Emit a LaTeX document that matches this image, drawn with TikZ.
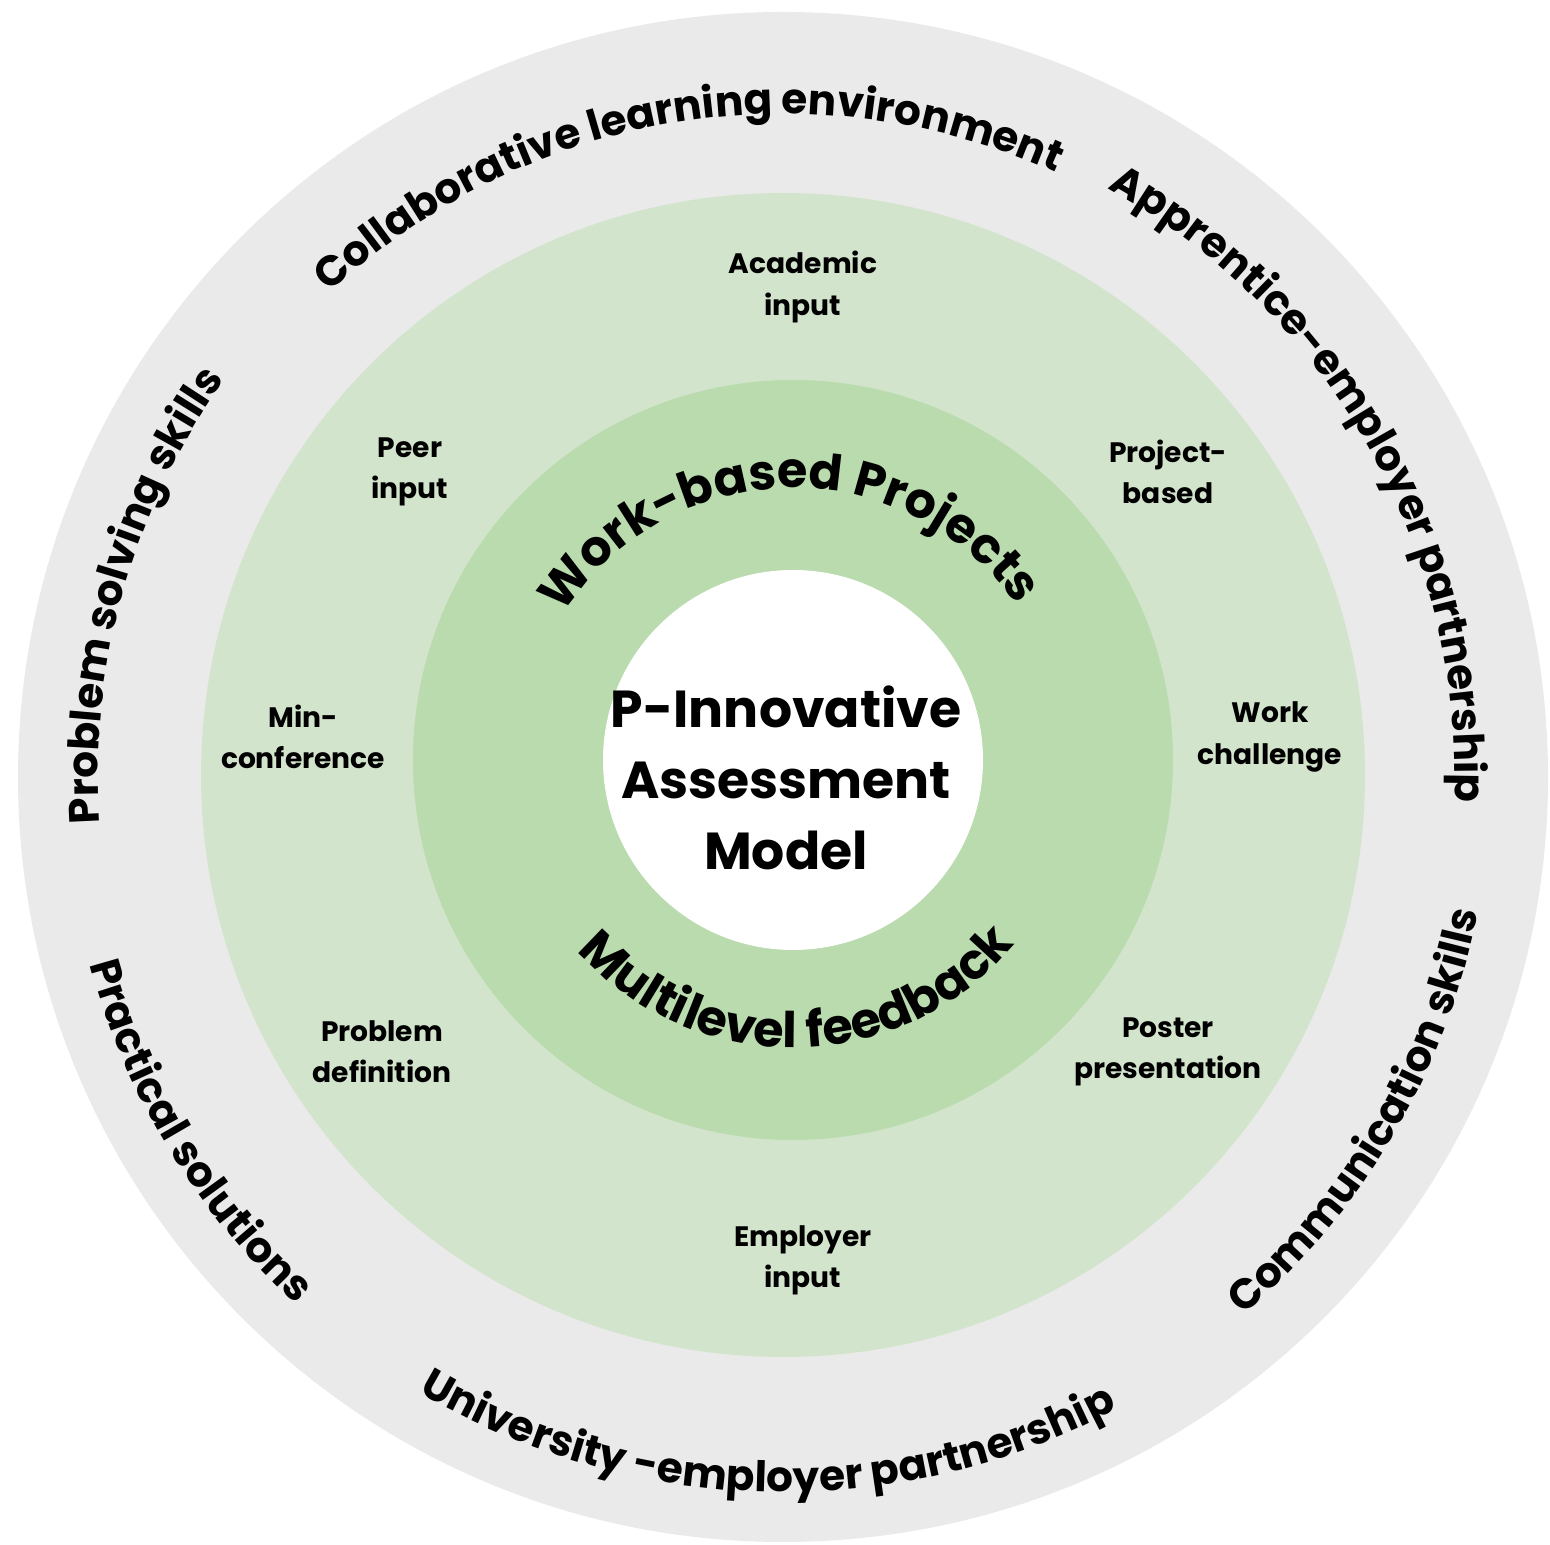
\documentclass[tikz,border=0pt]{standalone}
\usepackage{fontspec}
\setmainfont{Poppins}
\usetikzlibrary{decorations.text}

\definecolor{ringgray}{RGB}{234,234,234}
\definecolor{lightgreen}{RGB}{211,228,204}
\definecolor{midgreen}{RGB}{186,219,174}

\newcommand\outerfnt{\bfseries\fontsize{12}{14}\selectfont}
\newcommand\midfnt{\bfseries\fontsize{14}{17}\selectfont}

\tikzset{
  lbl/.style={align=center, font=\bfseries\fontsize{8}{11.7}\selectfont},
  centretext/.style={align=center, font=\bfseries\fontsize{14.8}{20.2}\selectfont},
  ringtext/.style={decorate, decoration={text along path, text align=center, text={#1}}}
}

\begin{document}
\begin{tikzpicture}
\useasboundingbox (0,0) rectangle (15.5,15.45);
\coordinate (O) at (7.83,7.68);
\coordinate (L) at (7.83,7.70);
\coordinate (M) at (7.93,7.85);

\fill[ringgray] (O) circle (7.65);
\fill[lightgreen] (L) circle (5.82);
\fill[midgreen] (M) circle (3.80);
\fill[white] (M) circle (1.90);

\path[ringtext={|\outerfnt|Collaborative learning environment}] (O) ++(159.4:6.63) arc[start angle=159.4, end angle=39.4, radius=6.63];
\path[ringtext={|\outerfnt|Apprentice-employer partnership}] (O) ++(89.5:6.72) arc[start angle=89.5, end angle=-30.5, radius=6.72];
\path[ringtext={|\outerfnt|Problem solving skills}] (O) ++(224.2:6.85) arc[start angle=224.2, end angle=104.2, radius=6.85];
\path[ringtext={|\outerfnt|Communication skills}] (O) ++(-90.2:7.08) arc[start angle=-90.2, end angle=29.8, radius=7.08];
\path[ringtext={|\outerfnt|University -employer partnership}] (O) ++(208.6:7.15) arc[start angle=208.6, end angle=328.6, radius=7.15];
\path[ringtext={|\outerfnt|Practical solutions}] (O) ++(151.2:7.18) arc[start angle=151.2, end angle=271.2, radius=7.18];

\path[ringtext={|\midfnt|Work-based Projects}] (M) ++(151:2.72) arc[start angle=151, end angle=31, radius=2.72];
\path[ringtext={|\midfnt|Multilevel feedback}] (M) ++(211:2.88) arc[start angle=211, end angle=331, radius=2.88];

\node[centretext] (model) at (7.86,7.67) {P-Innovative\\Assessment\\Model};

\node[lbl] (academic) at (8.03,12.58) {Academic\\input};
\node[lbl] (peer) at (4.10,10.73) {Peer\\input};
\node[lbl] (project) at (11.68,10.73) {Project-\\based};
\node[lbl] (minconf) at (3.03,8.08) {Min-\\conference};
\node[lbl] (workch) at (12.70,8.08) {Work\\challenge};
\node[lbl] (probdef) at (3.82,4.93) {Problem\\definition};
\node[lbl] (poster) at (11.68,4.93) {Poster\\presentation};
\node[lbl] (employer) at (8.03,2.85) {Employer\\input};
\end{tikzpicture}
\end{document}
